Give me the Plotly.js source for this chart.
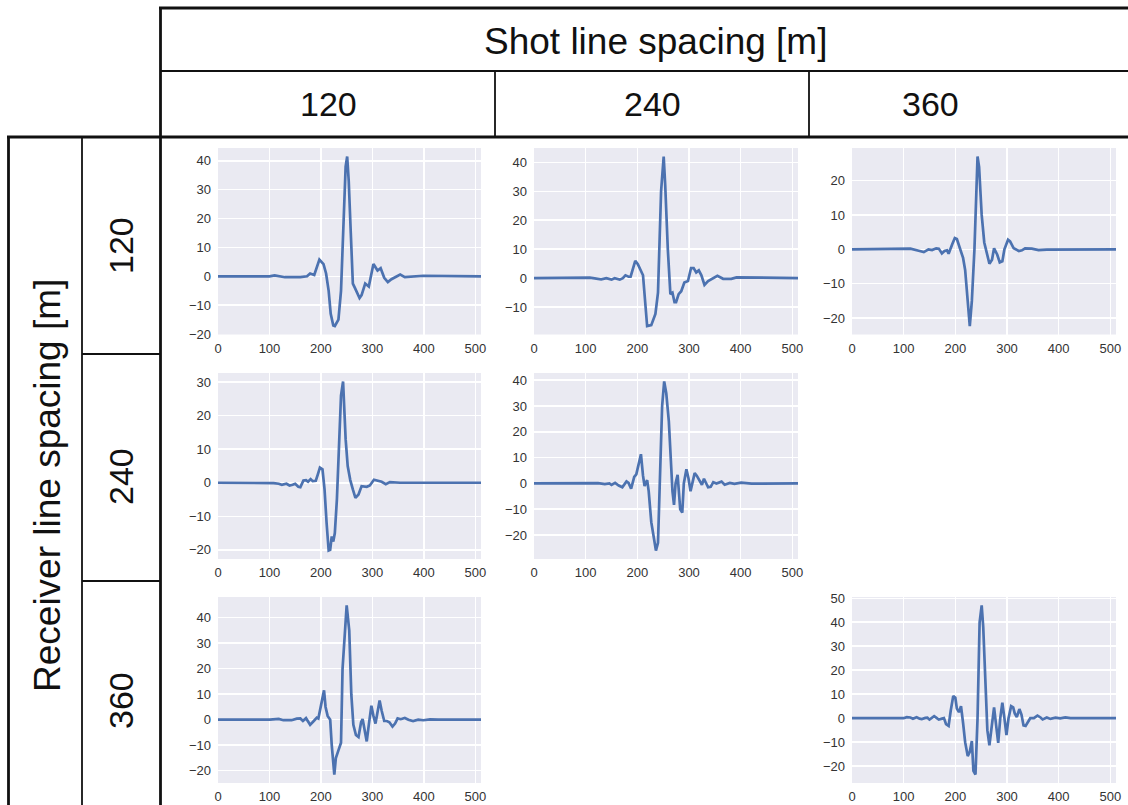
<!DOCTYPE html>
<html>
<head>
<meta charset="utf-8">
<script src="https://cdn.plot.ly/plotly-3.0.1.min.js"></script>
<style>html,body{margin:0;padding:0;background:#fff;}#chart{width:1128px;height:805px;}</style>
</head>
<body>
<div id="chart"></div>
<script>
// ---------- Data ----------
const shotSpacings = ["120", "240", "360"];
const receiverSpacings = ["120", "240", "360"];
const headerTitle = "Shot line spacing [m]";
const sideTitle = "Receiver line spacing [m]";
const xTicks = [0, 100, 200, 300, 400, 500];

// shot 120 / receiver 120
const x_s120_r120 = [0, 100, 110, 130, 160, 173, 179, 187, 197, 205, 210, 215, 219, 224, 227, 234, 239, 244, 248, 251, 254, 258, 262, 266, 275, 279, 286, 293, 302, 310, 316, 323, 330, 337, 354, 363, 380, 399, 511];
const y_s120_r120 = [0, 0, 0.3, -0.3, -0.3, 0, 1, 0.5, 5.8, 4.2, 1, -5, -13, -17, -17.2, -15, -5, 18, 38, 41.5, 33, 15, -2.5, -4, -7.5, -6.5, -2.5, -3.5, 4.3, 2, 2.8, -0.5, -2, -1, 0.6, -0.3, 0, 0.2, 0];

// shot 240 / receiver 120
const x_s240_r120 = [0, 98, 108, 130, 140, 150, 156, 166, 172, 177, 183, 187, 196, 201, 211, 219, 227, 235, 240, 246, 251, 254, 259, 264, 268, 272, 275, 280, 285, 291, 298, 304, 309, 314, 319, 324, 330, 337, 346, 355, 366, 382, 392, 511];
const y_s240_r120 = [0, 0, 0.2, -0.4, 0, -0.5, 0, -0.5, 0, 1, 0.5, 0.5, 6, 4.8, 1, -16.5, -16.2, -12.3, -5, 30, 42, 32, 10, -5.5, -5, -8.3, -8.3, -5.5, -4.5, -1.5, -1, 3.5, 3.5, 2, 2.7, 1, -2.3, -1, 0, 0.8, -0.2, -0.2, 0.3, 0];

// shot 360 / receiver 120
const x_s360_r120 = [0, 100, 113, 129, 139, 148, 155, 163, 168, 174, 179, 184, 187, 194, 199, 203, 208, 215, 219, 224, 228, 232, 237, 241, 243, 246, 251, 256, 261, 266, 271, 275, 281, 286, 291, 295, 302, 306, 313, 323, 329, 335, 348, 361, 377, 511];
const y_s360_r120 = [0, 0, 0.2, -0.4, -0.8, 0, -0.2, 0.3, 0.2, -1.2, -0.5, -0.3, -1.3, 1.5, 3.3, 3, 0.5, -2.5, -6, -15, -22.3, -15, 0, 18, 27, 24, 10, 2, -1, -4.2, -3, 0.3, -1.5, -3.8, -3.5, 0, 2.8, 2.3, 0.3, -0.5, -0.3, 0.3, 0.2, -0.2, -0.1, 0];

// shot 120 / receiver 240
const x_s120_r240 = [0, 95, 108, 118, 124, 133, 139, 145, 150, 156, 160, 166, 171, 175, 180, 184, 190, 194, 198, 203, 207, 211, 215, 218, 221, 224, 227, 231, 236, 239, 243, 245, 248, 252, 257, 262, 267, 273, 279, 289, 295, 303, 311, 318, 326, 334, 354, 511];
const y_s120_r240 = [0, 0, -0.1, -0.3, -0.6, -0.3, -0.8, -0.6, -0.3, -1.2, -1.3, 0.7, 0.8, 0.3, 1.1, 0.5, 0.6, 2.5, 4.5, 4, -2, -12, -20.2, -20, -16, -17.5, -15, -5, 17, 26, 30.2, 23, 13, 5, 0.8, -2, -4.5, -3.5, -1, -1.2, -0.8, 0.9, 0.5, 0.3, -0.4, 0.2, 0, 0];

// shot 240 / receiver 240
const x_s240_r240 = [0, 98, 108, 124, 137, 146, 150, 157, 164, 171, 179, 183, 188, 194, 198, 203, 207, 211, 214, 219, 222, 227, 232, 236, 240, 243, 248, 252, 256, 261, 265, 268, 271, 274, 278, 280, 283, 287, 290, 295, 299, 303, 307, 311, 315, 320, 325, 329, 332, 337, 342, 347, 353, 363, 369, 379, 388, 401, 421, 511];
const y_s240_r240 = [0, 0, 0.2, 0.1, -0.3, 0, -0.6, 0.2, -0.8, -1.5, 0.8, 0.2, -2, 2.5, 3.5, 8, 11.3, 3, -1, 1.3, -3, -15, -21, -26, -23, 0, 30, 39.5, 35, 24, 5, -3, -8.3, 0, 3.3, -3, -10, -11.3, 0, 5.5, 2, -3, 0, 4, 3, 1.5, -0.5, 1.8, 0.5, -1.5, -1.3, 0.5, 0, 0.7, -0.5, 0.2, -0.2, 0.3, -0.1, 0];

// shot 120 / receiver 360
const x_s120_r360 = [0, 101, 118, 127, 143, 153, 160, 165, 171, 179, 187, 192, 195, 200, 204, 206, 209, 213, 218, 221, 226, 229, 234, 239, 242, 247, 250, 255, 259, 263, 268, 273, 278, 281, 284, 289, 293, 298, 302, 306, 310, 314, 318, 323, 328, 333, 339, 344, 349, 355, 363, 370, 379, 389, 399, 412, 428, 511];
const y_s120_r360 = [0, 0, 0.3, -0.2, -0.2, 0.4, 0.5, -0.5, 0.6, -2, -0.3, 0.8, 0.5, 6, 10.5, 11.5, 5, 1.5, 0, -10, -21.5, -15, -12, -9, 20, 38, 44.8, 35, 10, -2, -6, -6.8, -1, 0.3, -3, -8.5, -2, 5.5, 1.5, -1.5, 3, 7.5, 3.5, -0.5, -0.5, -1, -2.7, -1.5, 0.5, 0.2, 0.7, 0, -0.5, 0, -0.2, 0.1, 0, 0];

// shot 360 / receiver 360
const x_s360_r360 = [0, 100, 106, 113, 118, 125, 131, 135, 142, 146, 150, 155, 159, 163, 168, 174, 178, 182, 187, 191, 196, 200, 203, 207, 211, 215, 219, 224, 228, 232, 235, 239, 243, 247, 251, 254, 259, 262, 266, 271, 275, 279, 283, 287, 291, 295, 299, 303, 308, 312, 315, 319, 324, 328, 332, 336, 341, 345, 352, 359, 365, 369, 377, 384, 394, 403, 413, 423, 511];
const y_s360_r360 = [0, 0, 0.4, 0.3, -0.2, 0.4, -0.2, -0.4, 0.1, 0.2, -0.6, 0, 0.8, 0.2, -0.6, -0.2, 0, -2.5, -3.2, 3, 9.3, 8.5, 4, 2.5, 5, -2, -10, -15.8, -14, -9.5, -22, -23.5, 0, 40, 47, 38, 10, -5, -11.3, -2, 4.5, -3, -10.3, 0, 6.5, 0, -7, 0, 5, 4.5, 2, 0.5, 3.8, 1.5, -3, -3.2, -1.5, 0, 0, 1.1, 0.3, -0.5, 0.3, -0.3, 0.2, -0.1, 0.3, 0, 0];

// ---------- Layout helpers (pixel geometry) ----------
const W = 1128, H = 805;
const px = v => v / W;
const py = v => 1 - v / H;
const colPx = [[218, 481], [534, 798], [852, 1116]];
const rowPx = [[148, 334.5], [373, 559], [597, 783]];

const panels = [
  {row: 0, col: 0, x: x_s120_r120, y: y_s120_r120},
  {row: 0, col: 1, x: x_s240_r120, y: y_s240_r120},
  {row: 0, col: 2, x: x_s360_r120, y: y_s360_r120},
  {row: 1, col: 0, x: x_s120_r240, y: y_s120_r240},
  {row: 1, col: 1, x: x_s240_r240, y: y_s240_r240},
  {row: 2, col: 0, x: x_s120_r360, y: y_s120_r360},
  {row: 2, col: 2, x: x_s360_r360, y: y_s360_r360}
];

const tickFont = {family: "Liberation Sans Narrow, Liberation Sans, Arial, sans-serif", size: 13, color: "#333333"};
const data = [];
const layout = {
  width: W, height: H,
  margin: {l: 0, r: 0, t: 0, b: 0},
  paper_bgcolor: "#ffffff",
  showlegend: false,
  shapes: [],
  annotations: []
};

panels.forEach((p, i) => {
  const n = i === 0 ? "" : String(i + 1);
  const ymin = Math.min(...p.y), ymax = Math.max(...p.y);
  const pad = 0.05 * (ymax - ymin);
  data.push({
    type: "scatter", mode: "lines",
    x: p.x, y: p.y,
    xaxis: "x" + n, yaxis: "y" + n,
    line: {color: "#4C72B0", width: 2.7},
    hoverinfo: "skip"
  });
  layout["xaxis" + n] = {
    domain: [px(colPx[p.col][0]), px(colPx[p.col][1])],
    anchor: "y" + n,
    range: [0, 511],
    tickvals: xTicks,
    ticktext: xTicks.map(String),
    showgrid: true, gridcolor: "#ffffff", gridwidth: 1.5,
    zeroline: false, showline: false,
    ticks: "", ticklabelstandoff: 4,
    tickfont: tickFont,
    fixedrange: true
  };
  layout["yaxis" + n] = {
    domain: [py(rowPx[p.row][1]), py(rowPx[p.row][0])],
    anchor: "x" + n,
    range: [ymin - pad, ymax + pad],
    dtick: 10,
    showgrid: true, gridcolor: "#ffffff", gridwidth: 1.5,
    zeroline: false, showline: false,
    ticks: "", ticklabelstandoff: 6,
    tickfont: tickFont,
    fixedrange: true
  };
});
layout.plot_bgcolor = "#EAEAF2";

// ---------- Table frame ----------
function hline(y, x0, x1, w) {
  layout.shapes.push({type: "line", xref: "paper", yref: "paper", x0: px(x0), x1: px(x1), y0: py(y), y1: py(y), line: {color: "#111", width: w}});
}
function vline(x, y0, y1, w) {
  layout.shapes.push({type: "line", xref: "paper", yref: "paper", x0: px(x), x1: px(x), y0: py(y0), y1: py(y1), line: {color: "#111", width: w}});
}
hline(8, 159, 1130, 2.8);
hline(71, 160, 1130, 1.8);
hline(137, 7, 1130, 2.8);
vline(160.5, 7, 810, 2.8);
vline(495, 71, 137, 1.8);
vline(809, 71, 137, 1.8);
vline(8.5, 136, 810, 2.8);
vline(82, 137, 810, 1.8);
hline(354, 82, 160, 1.8);
hline(581, 82, 160, 1.8);

// ---------- Header texts ----------
const hdrFont = {family: "Liberation Sans, Arial, sans-serif", color: "#111"};
function ann(text, x, y, size, angle) {
  layout.annotations.push({
    text: text, xref: "paper", yref: "paper", x: px(x), y: py(y),
    xanchor: "center", yanchor: "middle", showarrow: false,
    textangle: angle || 0,
    font: Object.assign({size: size}, hdrFont)
  });
}
ann(headerTitle, 655, 41, 37);
const colHeaderX = [328, 652, 930];
shotSpacings.forEach((s, i) => ann(s, colHeaderX[i], 104, 34));
ann(sideTitle, 47, 486, 37, -90);
const rowHeaderY = [246, 477, 701];
receiverSpacings.forEach((s, i) => ann(s, 121, rowHeaderY[i], 34, -90));

Plotly.newPlot("chart", data, layout, {staticPlot: true});
</script>
</body>
</html>
